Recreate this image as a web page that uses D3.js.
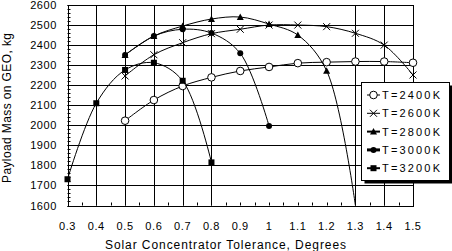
<!DOCTYPE html>
<html>
<head>
<meta charset="utf-8">
<script src="https://cdn.jsdelivr.net/npm/d3@7"></script>
<style>
  body { margin: 0; background: #fff; }
  text { font-family: "Liberation Sans", Arial, sans-serif; fill: #000; }
</style>
</head>
<body>
<div id="viz"></div>
<script>
const width = 452;
const height = 251;
const plot = {left: 67.5, right: 413, top: 5, bottom: 205.5};

// Data
const tolerance = [0.3, 0.4, 0.5, 0.6, 0.7, 0.8, 0.9, 1.0, 1.1, 1.2, 1.3, 1.4, 1.5];
const xTickLabels = ['0.3', '0.4', '0.5', '0.6', '0.7', '0.8', '0.9', '1', '1.1', '1.2', '1.3', '1.4', '1.5'];
const yTicks = [1600, 1700, 1800, 1900, 2000, 2100, 2200, 2300, 2400, 2500, 2600];
const xGridLines = [0.4, 0.5, 0.6, 0.7, 0.8, 1.3, 1.4];

const t2400x = [0.5, 0.6, 0.7, 0.8, 0.9, 1.0, 1.1, 1.2, 1.3, 1.4, 1.5];
const t2400 = [2023, 2126, 2196, 2239, 2271, 2291, 2310, 2315, 2318, 2318, 2312];
const t2600x = [0.5, 0.6, 0.7, 0.8, 0.9, 1.0, 1.1, 1.2, 1.3, 1.4, 1.5];
const t2600 = [2246, 2352, 2412, 2457, 2479, 2500, 2500, 2492, 2459, 2400, 2251];
const t2800x = [0.5, 0.6, 0.7, 0.8, 0.9, 1.0, 1.1, 1.2, 1.3];
const t2800 = [2351, 2445, 2495, 2530, 2540, 2505, 2450, 2272, 1600];
const t3000x = [0.5, 0.6, 0.7, 0.8, 0.9, 1.0];
const t3000 = [2351, 2445, 2479, 2460, 2359, 1997];
const t3200x = [0.3, 0.4, 0.5, 0.6, 0.7, 0.8];
const t3200 = [1731, 2110, 2276, 2312, 2222, 1815];

const series = [
  {name: 'T=2400K', xs: t2400x, ys: t2400, marker: 'openCircle'},
  {name: 'T=2600K', xs: t2600x, ys: t2600, marker: 'cross'},
  {name: 'T=2800K', xs: t2800x, ys: t2800, marker: 'triangle'},
  {name: 'T=3000K', xs: t3000x, ys: t3000, marker: 'dot'},
  {name: 'T=3200K', xs: t3200x, ys: t3200, marker: 'square'}
];

const x = d3.scaleLinear().domain([0.3, 1.5]).range([plot.left, plot.right]);
const y = d3.scaleLinear().domain([1600, 2600]).range([plot.bottom, plot.top]);

const svg = d3.select('#viz')
  .append('svg')
    .attr('width', width)
    .attr('height', height)
    .attr('viewBox', [0, 0, width, height]);

svg.append('rect').attr('width', width).attr('height', height).attr('fill', '#fff');

// horizontal grid
svg.append('g')
  .selectAll('line')
  .data(yTicks)
  .join('line')
    .attr('x1', plot.left).attr('x2', plot.right)
    .attr('y1', d => Math.round(y(d)) + 0.5).attr('y2', d => Math.round(y(d)) + 0.5)
    .attr('stroke', '#000').attr('stroke-width', 1);

// vertical grid
svg.append('g')
  .selectAll('line')
  .data(xGridLines)
  .join('line')
    .attr('x1', d => Math.round(x(d)) + 0.5).attr('x2', d => Math.round(x(d)) + 0.5)
    .attr('y1', plot.top).attr('y2', plot.bottom)
    .attr('stroke', '#000').attr('stroke-width', 1);

// minor ticks
const xMinor = d3.range(0, 25).map(i => 0.3 + i * 0.05);
svg.append('g')
  .selectAll('line')
  .data(xMinor)
  .join('line')
    .attr('x1', d => Math.round(x(d)) + 0.5).attr('x2', d => Math.round(x(d)) + 0.5)
    .attr('y1', plot.bottom - 3).attr('y2', plot.bottom)
    .attr('stroke', '#000');

const yMinor = d3.range(1600, 2601, 20);
svg.append('g')
  .selectAll('line')
  .data(yMinor)
  .join('line')
    .attr('x1', plot.left).attr('x2', plot.left + 3)
    .attr('y1', d => Math.round(y(d)) + 0.5).attr('y2', d => Math.round(y(d)) + 0.5)
    .attr('stroke', '#000');

// plot frame
svg.append('rect')
  .attr('x', Math.round(plot.left) + 0.5)
  .attr('y', Math.round(plot.top) + 0.5)
  .attr('width', Math.round(plot.right) - Math.round(plot.left))
  .attr('height', Math.round(plot.bottom) - Math.round(plot.top))
  .attr('fill', 'none')
  .attr('stroke', '#000');

// tick labels
svg.append('g')
  .selectAll('text')
  .data(yTicks)
  .join('text')
    .attr('x', 57)
    .attr('y', d => y(d) + 4)
    .attr('text-anchor', 'end')
    .attr('font-size', 11)
    .attr('letter-spacing', 0.6)
    .text(d => d);

svg.append('g')
  .selectAll('text')
  .data(tolerance)
  .join('text')
    .attr('x', d => x(d))
    .attr('y', 230)
    .attr('text-anchor', 'middle')
    .attr('font-size', 11)
    .attr('letter-spacing', 0.6)
    .text((d, i) => xTickLabels[i]);

svg.append('text')
  .attr('x', 105)
  .attr('y', 249)
  .attr('font-size', 12)
  .attr('textLength', 241)
  .attr('lengthAdjust', 'spacing')
  .text('Solar Concentrator Tolerance, Degrees');

svg.append('text')
  .attr('transform', 'translate(10.5, 183) rotate(-90)')
  .attr('font-size', 12)
  .attr('textLength', 150)
  .attr('lengthAdjust', 'spacing')
  .text('Payload Mass on GEO, kg');

// markers
const drawMarker = (g, type, cx, cy) => {
  if (type === 'openCircle') {
    g.append('circle').attr('cx', cx).attr('cy', cy).attr('r', 3.8)
      .attr('fill', '#fff').attr('stroke', '#000');
  } else if (type === 'cross') {
    g.append('path')
      .attr('d', `M${cx - 3.5},${cy - 3.5}L${cx + 3.5},${cy + 3.5}M${cx - 3.5},${cy + 3.5}L${cx + 3.5},${cy - 3.5}`)
      .attr('stroke', '#000').attr('stroke-width', 1);
  } else if (type === 'triangle') {
    g.append('path')
      .attr('d', `M${cx},${cy - 3.5}L${cx + 3.5},${cy + 3}L${cx - 3.5},${cy + 3}Z`)
      .attr('fill', '#000');
  } else if (type === 'dot') {
    g.append('circle').attr('cx', cx).attr('cy', cy).attr('r', 3).attr('fill', '#000');
  } else if (type === 'square') {
    g.append('rect').attr('x', cx - 3).attr('y', cy - 3).attr('width', 6).attr('height', 6)
      .attr('fill', '#000');
  }
};

const line = d3.line()
  .x(d => x(d[0]))
  .y(d => y(d[1]))
  .curve(d3.curveCatmullRom.alpha(0.5));

series.forEach(s => {
  const pts = s.xs.map((v, i) => [v, s.ys[i]]);
  const g = svg.append('g');
  g.append('path')
    .attr('d', line(pts))
    .attr('fill', 'none')
    .attr('stroke', '#000')
    .attr('stroke-width', 1);
  pts.filter(p => p[1] > 1600).forEach(p => drawMarker(g, s.marker, x(p[0]), y(p[1])));
});

// legend
const lg = {x: 361.5, y: 82.5, w: 88, h: 98};
svg.append('rect')
  .attr('x', lg.x + 3).attr('y', lg.y + 3).attr('width', lg.w).attr('height', lg.h)
  .attr('fill', '#000');
svg.append('rect')
  .attr('x', lg.x).attr('y', lg.y).attr('width', lg.w).attr('height', lg.h)
  .attr('fill', '#fff').attr('stroke', '#000');

const legendWidths = [1, 1, 2, 3, 2];
series.forEach((s, i) => {
  const ry = 95 + i * 18.3;
  const g = svg.append('g');
  g.append('line')
    .attr('x1', 367).attr('x2', 380)
    .attr('y1', ry).attr('y2', ry)
    .attr('stroke', '#000').attr('stroke-width', legendWidths[i]);
  drawMarker(g, s.marker, 373.5, ry);
  g.append('text')
    .attr('x', 382)
    .attr('y', ry + 4)
    .attr('font-size', 11)
    .attr('textLength', 58)
    .attr('lengthAdjust', 'spacing')
    .text(s.name);
});
</script>
</body>
</html>
